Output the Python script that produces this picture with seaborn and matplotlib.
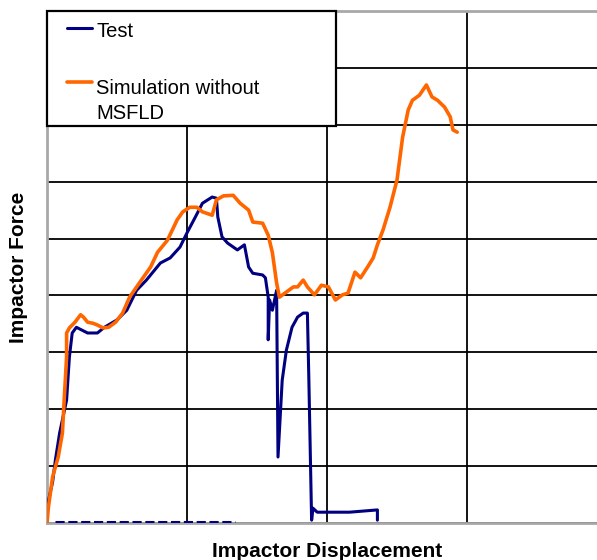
import matplotlib
matplotlib.use("Agg")
import matplotlib.pyplot as plt
import seaborn as sns
import pandas as pd

# Impactor force vs displacement (units = grid divisions)
test_x = [0.00, 0.00, 0.04, 0.06, 0.09, 0.14, 0.16, 0.18, 0.21, 0.25, 0.29, 0.36,
          0.41, 0.50, 0.57, 0.64, 0.71, 0.81, 0.88, 0.95, 1.00, 1.06, 1.11, 1.18,
          1.21, 1.22, 1.25, 1.29, 1.36, 1.41, 1.44, 1.47, 1.54, 1.56, 1.58, 1.58,
          1.59, 1.61, 1.64, 1.65, 1.68, 1.71, 1.75, 1.79, 1.83, 1.86, 1.87, 1.89,
          1.90, 1.93, 2.16, 2.36, 2.36]
test_y = [0.05, 0.28, 0.72, 1.11, 1.58, 2.16, 2.92, 3.34, 3.44, 3.39, 3.34, 3.34,
          3.44, 3.57, 3.74, 4.09, 4.27, 4.57, 4.66, 4.85, 5.10, 5.38, 5.62, 5.73,
          5.71, 5.38, 5.03, 4.92, 4.80, 4.89, 4.50, 4.39, 4.36, 4.31, 3.97, 3.22,
          3.92, 3.74, 4.09, 1.16, 2.51, 3.04, 3.44, 3.62, 3.69, 3.69, 2.57, 0.05,
          0.26, 0.19, 0.19, 0.23, 0.05]

# sparse points of the test record lying on the zero line
test_zero_x = [0.06, 1.34]
test_zero_y = [0.02, 0.02]

sim_x = [0.00, 0.01, 0.04, 0.08, 0.11, 0.12, 0.14, 0.14, 0.16, 0.20, 0.24, 0.26,
         0.29, 0.33, 0.36, 0.40, 0.44, 0.49, 0.54, 0.59, 0.66, 0.74, 0.79, 0.86,
         0.93, 0.97, 1.02, 1.07, 1.11, 1.18, 1.21, 1.26, 1.33, 1.38, 1.44, 1.47,
         1.54, 1.58, 1.61, 1.64, 1.66, 1.71, 1.76, 1.79, 1.83, 1.86, 1.91, 1.96,
         2.01, 2.06, 2.11, 2.15, 2.20, 2.24, 2.29, 2.33, 2.36, 2.40, 2.45, 2.50,
         2.54, 2.58, 2.61, 2.66, 2.71, 2.75, 2.79, 2.84, 2.88, 2.90, 2.93]
sim_y = [0.00, 0.28, 0.81, 1.16, 1.58, 2.04, 2.92, 3.34, 3.43, 3.53, 3.66, 3.62,
         3.53, 3.51, 3.48, 3.43, 3.44, 3.53, 3.69, 3.97, 4.22, 4.50, 4.76, 4.97,
         5.33, 5.47, 5.55, 5.55, 5.47, 5.41, 5.68, 5.75, 5.76, 5.62, 5.50, 5.29,
         5.27, 5.06, 4.75, 4.22, 3.97, 4.06, 4.15, 4.15, 4.27, 4.15, 4.01, 4.18,
         4.15, 3.92, 4.01, 4.04, 4.41, 4.31, 4.50, 4.66, 4.89, 5.15, 5.55, 6.03,
         6.78, 7.26, 7.43, 7.52, 7.70, 7.49, 7.43, 7.31, 7.14, 6.91, 6.87]

series_labels = ["Test", "Simulation without\nMSFLD"]
navy = "#000080"
orange = "#FF6600"

sns.set_style("white")
plt.rcParams["font.family"] = ["Liberation Sans", "DejaVu Sans"]
plt.rcParams["text.color"] = "black"
plt.rcParams["axes.labelcolor"] = "black"

fig = plt.figure(figsize=(5.97, 5.6), dpi=100)
# plot area is cut off at the right edge of the picture
ax = fig.add_axes([47 / 597, 37 / 560, 560 / 597, 512 / 560])

test_df = pd.DataFrame({"x": test_x, "y": test_y})
sim_df = pd.DataFrame({"x": sim_x, "y": sim_y})
zero_df = pd.DataFrame({"x": test_zero_x, "y": test_zero_y})

sns.lineplot(data=zero_df, x="x", y="y", ax=ax, color=navy, linewidth=2.2,
             sort=False, estimator=None, linestyle=(0, (3, 1.2)), zorder=3)
sns.lineplot(data=test_df, x="x", y="y", ax=ax, color=navy, linewidth=2.2,
             sort=False, estimator=None, label=series_labels[0], zorder=4)
sns.lineplot(data=sim_df, x="x", y="y", ax=ax, color=orange, linewidth=2.6,
             sort=False, estimator=None, label=series_labels[1], zorder=5)

ax.set_xlim(0, 4)
ax.set_ylim(0, 9)
ax.set_xticks([0, 1, 2, 3, 4])
ax.set_yticks(range(10))
ax.set_xticklabels([])
ax.set_yticklabels([])
ax.tick_params(length=0)
ax.grid(True, color="black", linewidth=1.3)
ax.set_axisbelow(True)
for side in ["left", "bottom", "top"]:
    ax.spines[side].set_color("#a8a8a8")
    ax.spines[side].set_linewidth(2)
ax.spines["right"].set_visible(False)

ax.set_xlabel("Impactor Displacement", fontsize=15, fontweight="bold",
              labelpad=10, color="black")
ax.set_ylabel("Impactor Force", fontsize=15, fontweight="bold",
              labelpad=10, color="black")

leg_fs = 14.5
hlen = 1.9
leg = ax.legend(loc="upper left", bbox_to_anchor=(0.0, 0.5, 289 / 560, 0.5),
                mode="expand", borderaxespad=0, frameon=True, fancybox=False,
                edgecolor="black", framealpha=1, fontsize=leg_fs,
                handlelength=hlen, handletextpad=0.2, labelspacing=1.9,
                borderpad=0.35, labelcolor="black")
leg.get_frame().set_linewidth(1.6)
leg.get_texts()[1].set_linespacing(1.4)
# nudge the label text a little lower inside its box
for txt in leg.get_texts():
    txt.set_position((0, -4))

# short handles sitting right before the text; the orange one next to the first line
w = hlen * leg_fs
for i, line in enumerate(leg.get_lines()):
    line.set_xdata([w - 18, w])
    y0 = line.get_ydata()[0] + (11.5 if i == 1 else -1.5)
    line.set_ydata([y0, y0])

fig.savefig("out.png", dpi=100)
